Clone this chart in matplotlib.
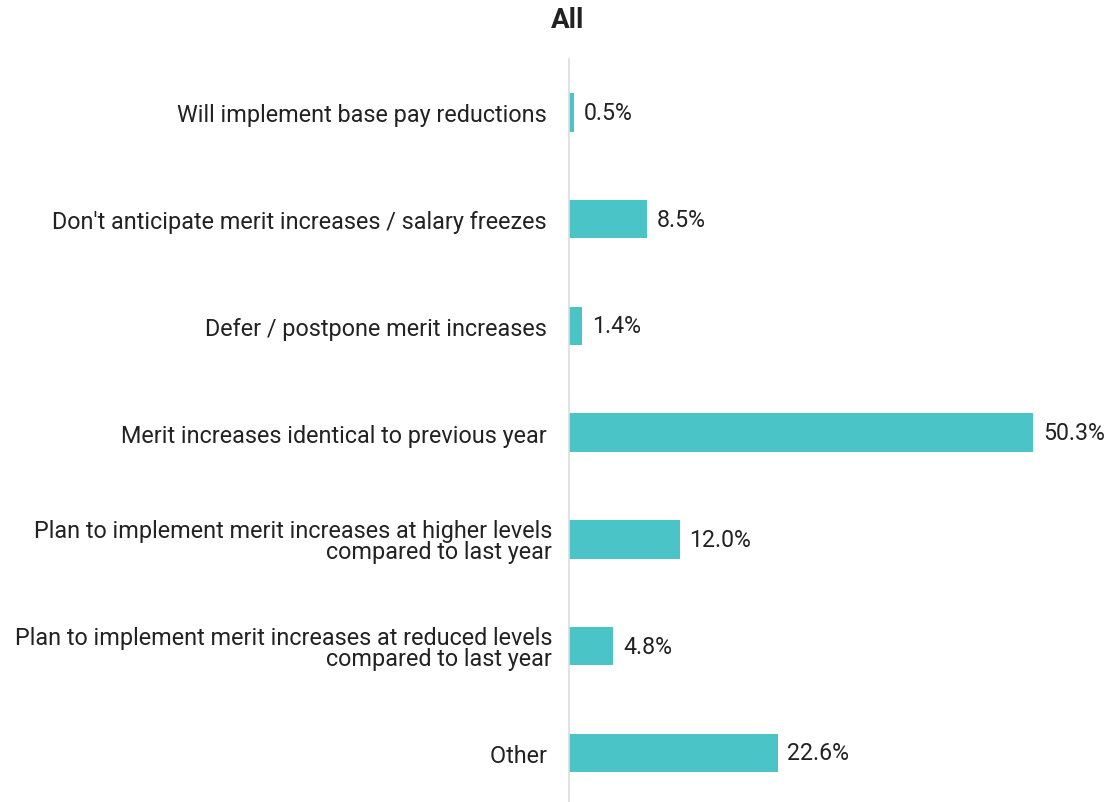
import matplotlib.pyplot as plt

plt.rcParams['font.family'] = ['Roboto', 'DejaVu Sans']

categories = [
    "Will implement base pay reductions ",
    "Don't anticipate merit increases / salary freezes ",
    "Defer / postpone merit increases ",
    "Merit increases identical to previous year ",
    "Plan to implement merit increases at higher levels\ncompared to last year",
    "Plan to implement merit increases at reduced levels\ncompared to last year",
    "Other ",
]
values = [0.5, 8.5, 1.4, 50.3, 12.0, 4.8, 22.6]
bar_color = '#4BC4C7'
text_color = '#222222'

fig = plt.figure(figsize=(11.09, 8.03), dpi=100)
ax = fig.add_axes([569 / 1109, 0, 540 / 1109, 743 / 803])

y = list(range(len(categories)))
ax.barh(y, values, height=0.36, color=bar_color)

for yi, v in zip(y, values):
    ax.text(v + 1.05, yi, f"{v:.1f}%", va='center', ha='left',
            fontsize=16.7, color=text_color)

ax.set_yticks(y)
ax.set_yticklabels(categories, fontsize=16.8, color=text_color, linespacing=0.92)
ax.tick_params(axis='y', length=0, pad=12)
ax.set_xticks([])
ax.set_xlim(0, 58.5)
ax.set_ylim(6.46, -0.5)

for s in ['top', 'right', 'bottom']:
    ax.spines[s].set_visible(False)
ax.spines['left'].set_color('#dddddd')
ax.spines['left'].set_linewidth(1.2)

fig.text(568 / 1109, 1 - 21 / 803, "All", ha='center', va='center',
         fontsize=20, fontweight='bold', color=text_color)

fig.savefig('out.png', dpi=100)
